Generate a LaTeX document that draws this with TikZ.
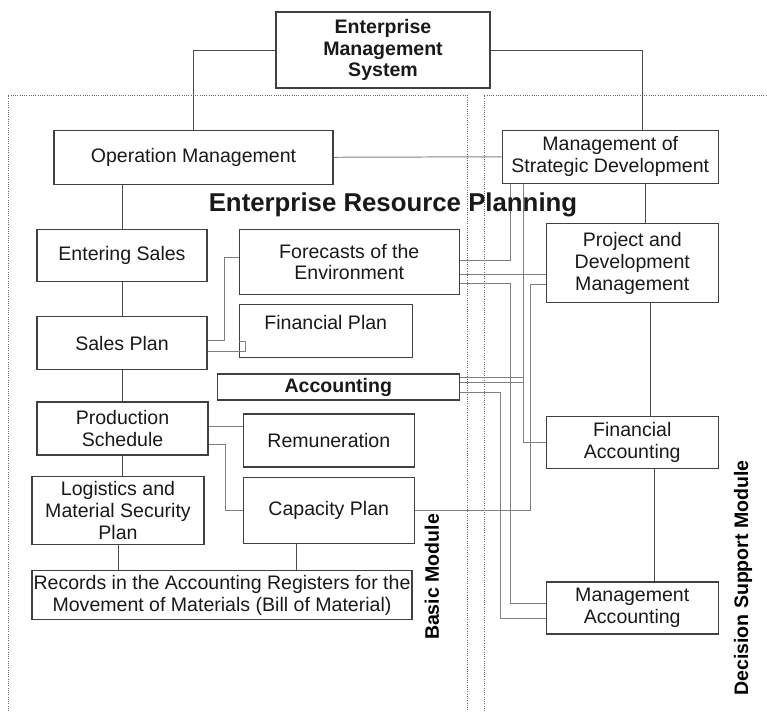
\documentclass[tikz,border=0pt]{standalone}
\usepackage{fontspec}
\setmainfont{Liberation Sans}
\usepackage{tikz}
\usetikzlibrary{positioning}
\tikzset{erpbox/.style={rectangle, draw=black!75, line width=0.9pt, text=black!90, align=center, inner sep=1pt, font=\fontsize{13.9}{15.6}\selectfont}}
\tikzset{boldtext/.style={font=\fontsize{13.9}{15.6}\selectfont\bfseries}}
\tikzset{tree/.style={draw=black!70, line width=0.7pt}}
\tikzset{link/.style={draw=black!50, line width=0.7pt}}
\tikzset{zone/.style={draw=black!60, densely dotted, line width=0.6pt}}

\begin{document}
\begin{tikzpicture}
\useasboundingbox (0,0) rectangle (19.175,-17.775);
% module frames
\draw[zone] (0.2,-17.775) |- (11.675,-2.375) -- (11.675,-17.775);
\draw[zone] (12.1,-17.775) |- (19.175,-2.375);

\node[erpbox, boldtext, minimum width=5.35cm, minimum height=1.9cm] (EMS) at (9.575,-1.25) {Enterprise\\Management\\System};
\node[erpbox, minimum width=6.975cm, minimum height=1.35cm, below=1.025cm of EMS.south west, anchor=north west, xshift=-5.55cm] (OpM) {Operation Management};
\node[erpbox, minimum width=5.4cm, minimum height=1.325cm, right=4.2cm of OpM.north east, anchor=north west] (StratDev) {Management of\\Strategic Development};
\node[erpbox, minimum width=4.25cm, minimum height=1.3cm, below=1.1cm of OpM.south west, anchor=north west, xshift=-0.425cm] (EntSales) {Entering Sales};
\node[erpbox, minimum width=4.25cm, minimum height=1.325cm, below=0.85cm of EntSales.south west, anchor=north west] (SalesPlan) {Sales Plan};
\node[erpbox, minimum width=4.275cm, minimum height=1.325cm, below=0.775cm of SalesPlan.south west, anchor=north west] (ProdSched) {Production\\Schedule};
\node[erpbox, minimum width=4.3cm, minimum height=1.7cm, below=0.5cm of ProdSched.south west, anchor=north west, xshift=-0.125cm] (Logist) {Logistics and\\Material Security\\Plan};
\node[erpbox, minimum width=9.5cm, minimum height=1.225cm, below=0.625cm of Logist.south west, anchor=north west] (Records) {Records in the Accounting Registers for the\\Movement of Materials (Bill of Material)};
\node[erpbox, minimum width=5.5cm, minimum height=1.625cm, right=0.775cm of EntSales.north east, anchor=north west] (Forecast) {Forecasts of the\\Environment};
\node[erpbox, minimum width=4.325cm, minimum height=1.325cm, text depth=0.43cm, below=0.225cm of Forecast.south west, anchor=north west] (FinPlan) {Financial Plan};
\node[erpbox, boldtext, minimum width=6.05cm, minimum height=0.65cm, below=0.375cm of FinPlan.south west, anchor=north west, xshift=-0.55cm] (Acc) {Accounting};
\node[erpbox, minimum width=4.275cm, minimum height=1.325cm, right=0.85cm of ProdSched.north east, anchor=north west, yshift=-0.3cm] (Remun) {Remuneration};
\node[erpbox, minimum width=4.275cm, minimum height=1.65cm, below=0.225cm of Remun.south west, anchor=north west] (CapPlan) {Capacity Plan};
\node[erpbox, minimum width=4.3cm, minimum height=1.975cm, below=0.975cm of StratDev.south east, anchor=north east] (ProjDev) {Project and\\Development\\Management};
\node[erpbox, minimum width=4.3cm, minimum height=1.3cm, below=2.825cm of ProjDev.south east, anchor=north east] (FinAcc) {Financial\\Accounting};
\node[erpbox, minimum width=4.3cm, minimum height=1.3cm, below=2.8cm of FinAcc.south east, anchor=north east] (MgmtAcc) {Management\\Accounting};

\path[tree] (EMS.west) -| (OpM.north);
\path[tree] (EMS.east) -| ([xshift=0.8cm]StratDev.north);
\path[link] (OpM.east) -- (StratDev.west);
\path[tree] (EntSales.north |- OpM.south) -- (EntSales.north);
\path[tree] (EntSales.south) -- (EntSales.south |- SalesPlan.north);
\path[tree] (SalesPlan.south) -- (SalesPlan.south |- ProdSched.north);
\path[tree] (ProdSched.south) -- (ProdSched.south |- Logist.north);
\path[tree] (Logist.south) -- (Logist.south |- Records.north);
\path[tree] ([xshift=-0.8125cm]CapPlan.south) -- ([xshift=-0.8125cm]CapPlan.south |- Records.north);
\path[tree] ([xshift=0.875cm]StratDev.south) -- ([xshift=0.875cm]StratDev.south |- ProjDev.north);
\path[tree] ([xshift=0.45cm]ProjDev.south) -- ([xshift=0.45cm]ProjDev.south |- FinAcc.north);
\path[tree] ([xshift=0.55cm]FinAcc.south) -- ([xshift=0.55cm]FinAcc.south |- MgmtAcc.north);

\path[link] ([yshift=0.0625cm]SalesPlan.east) -- ++(0.425cm,0) |- ([yshift=0.1125cm]Forecast.west);
\path[link] ([yshift=-0.2125cm]SalesPlan.east) -- ++(0.95cm,0) |- ([yshift=-0.2625cm]FinPlan.west);
\path[link] ([yshift=0.0625cm]ProdSched.east) -- ([yshift=0.0625cm]ProdSched.east -| Remun.west);
\path[link] ([yshift=-0.3875cm]ProdSched.east) -- ++(0.425cm,0) |- (CapPlan.west);
\path[link] ([xshift=-2.5cm]StratDev.south) |- ([yshift=0.05cm]Forecast.east);
\path[link] ([yshift=-0.3125cm]Forecast.east) -- ([yshift=-0.3125cm]Forecast.east -| ProjDev.west);
\path[link] ([yshift=-0.5375cm]Forecast.east) -- ++(1.275cm,0) |- ([yshift=0.125cm]MgmtAcc.west);
\path[link] ([xshift=-2.175cm]StratDev.south) |- (FinAcc.west);
\path[link] ([yshift=0.25cm]Acc.east) -| ([xshift=-2.175cm]StratDev.south);
\path[link] ([yshift=0.125cm]Acc.east) -- ++(1.6cm,0) |- (FinAcc.west);
\path[link] ([yshift=-0.125cm]Acc.east) -- ++(1.025cm,0) |- ([yshift=-0.25cm]MgmtAcc.west);
\path[link] ([yshift=-0.5375cm]ProjDev.west) -- ++(-0.375cm,0) |- (CapPlan.east);

\node[font=\fontsize{18.35}{20}\selectfont\bfseries, text=black!90] (ERP) at (9.825,-5.12) {Enterprise Resource Planning};
\node[boldtext, rotate=90] (BasicMod) at (10.8,-14.425) {Basic Module};
\node[boldtext, rotate=90] (DecMod) at (18.575,-14.45) {Decision Support Module};
\end{tikzpicture}
\end{document}
